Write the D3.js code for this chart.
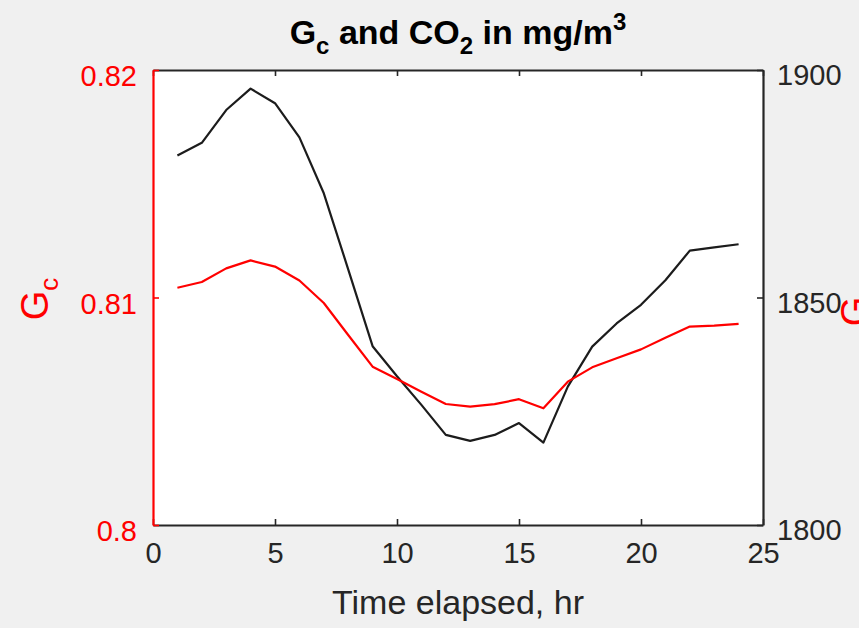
<!DOCTYPE html>
<html>
<head>
<meta charset="utf-8">
<script src="https://cdn.jsdelivr.net/npm/d3@7"></script>
<style>
  html, body { margin: 0; padding: 0; background: #f0f0f0; }
  svg { display: block; font-family: "Liberation Sans", Arial, Helvetica, sans-serif; }
</style>
</head>
<body>
<svg id="chart" width="859" height="628"></svg>
<script>
// Hourly series
const hours = [1, 2, 3, 4, 5, 6, 7, 8, 9, 10, 11, 12, 13, 14, 15, 16, 17, 18, 19, 20, 21, 22, 23, 24];
const gcValues = [0.81043, 0.81068, 0.81128, 0.81163, 0.81136, 0.81075, 0.80976, 0.80835,
                  0.80696, 0.80642, 0.80586, 0.80532, 0.80520, 0.80531, 0.80553, 0.80513,
                  0.80630, 0.80693, 0.80733, 0.80772, 0.80823, 0.80872, 0.80876, 0.80884];
const co2Values = [1881.2, 1884.0, 1891.2, 1895.9, 1892.7, 1885.2, 1872.9, 1856.2,
                   1839.3, 1832.7, 1826.4, 1819.8, 1818.5, 1819.8, 1822.4, 1818.1,
                   1830.4, 1839.2, 1844.3, 1848.4, 1853.8, 1860.3, 1861.0, 1861.7];

// Axis ticks
const xTicks = [0, 5, 10, 15, 20, 25];
const gcTicks = [0.8, 0.81, 0.82];
const co2Ticks = [1800, 1850, 1900];

const RED = "#ff0000";
const AXIS = "#262626";

const svg = d3.select("#chart");
const plot = { left: 153, right: 763, top: 70, bottom: 525 };

const x = d3.scaleLinear().domain([0, 25]).range([plot.left, plot.right]);
const yL = d3.scaleLinear().domain([0.8, 0.82]).range([plot.bottom, plot.top]);
const yR = d3.scaleLinear().domain([1800, 1900]).range([plot.bottom, plot.top]);

// Plot area
svg.append("rect")
  .attr("x", plot.left).attr("y", plot.top)
  .attr("width", plot.right - plot.left).attr("height", plot.bottom - plot.top)
  .attr("fill", "#ffffff");

// Series lines
const lineGc = d3.line().x((d, i) => x(hours[i])).y(d => yL(d));
const lineCo2 = d3.line().x((d, i) => x(hours[i])).y(d => yR(d));

svg.append("path").datum(co2Values)
  .attr("d", lineCo2).attr("fill", "none")
  .attr("stroke", "#1c1c1c").attr("stroke-width", 2.2).attr("stroke-linejoin", "round");
svg.append("path").datum(gcValues)
  .attr("d", lineGc).attr("fill", "none")
  .attr("stroke", RED).attr("stroke-width", 2.2).attr("stroke-linejoin", "round");

function styleAxis(g, color, fontSize) {
  g.select(".domain").attr("stroke", color).attr("stroke-width", 2.2);
  g.selectAll(".tick line").attr("stroke", color).attr("stroke-width", 1.6);
  g.selectAll(".tick text").attr("fill", color)
    .attr("font-size", fontSize).attr("font-family", "Liberation Sans, Arial, sans-serif");
}

// Bottom and top x axes (ticks point inward)
const xBottom = svg.append("g").attr("transform", `translate(0,${plot.bottom})`)
  .call(d3.axisBottom(x).tickValues(xTicks).tickSizeInner(-6).tickSizeOuter(0).tickPadding(17).tickFormat(d3.format("d")));
styleAxis(xBottom, AXIS, 29);

const xTop = svg.append("g").attr("transform", `translate(0,${plot.top})`)
  .call(d3.axisTop(x).tickValues(xTicks).tickSizeInner(-6).tickSizeOuter(0).tickFormat(""));
styleAxis(xTop, AXIS, 29);

// Right axis (CO2)
const yRight = svg.append("g").attr("transform", `translate(${plot.right},0)`)
  .call(d3.axisRight(yR).tickValues(co2Ticks).tickSizeInner(-6).tickSizeOuter(0).tickPadding(14).tickFormat(d3.format("d")));
styleAxis(yRight, AXIS, 29);
yRight.selectAll(".tick text").attr("dy", "0.5em");

// Left axis (Gc)
const yLeft = svg.append("g").attr("transform", `translate(${plot.left},0)`)
  .call(d3.axisLeft(yL).tickValues(gcTicks).tickSizeInner(-6).tickSizeOuter(0).tickPadding(16).tickFormat(d => d3.format("")(+d.toFixed(2))));
styleAxis(yLeft, RED, 29);
yLeft.selectAll(".tick text").attr("dy", "0.55em");

// Title
const title = svg.append("text")
  .attr("x", (plot.left + plot.right) / 2).attr("y", 44)
  .attr("text-anchor", "middle").attr("font-weight", "bold")
  .attr("font-size", 34).attr("fill", "#000");
title.append("tspan").text("G");
title.append("tspan").attr("font-size", 24).attr("dy", 10).text("c");
title.append("tspan").attr("dy", -10).text(" and CO");
title.append("tspan").attr("font-size", 24).attr("dy", 10).text("2");
title.append("tspan").attr("dy", -10).text(" in mg/m");
title.append("tspan").attr("font-size", 24).attr("dy", -14).text("3");

// X axis label
svg.append("text")
  .attr("x", (plot.left + plot.right) / 2).attr("y", 614)
  .attr("text-anchor", "middle").attr("font-size", 34).attr("fill", AXIS)
  .text("Time elapsed, hr");

// Y axis labels (rotated)
function gcLabel(tx, ty) {
  const t = svg.append("text")
    .attr("transform", `translate(${tx},${ty}) rotate(-90)`)
    .attr("text-anchor", "middle").attr("font-size", 38).attr("fill", RED);
  t.append("tspan").text("G");
  t.append("tspan").attr("font-size", 26).attr("dy", 10).text("c");
}
gcLabel(48, 299);
gcLabel(868, 305);
</script>
</body>
</html>
